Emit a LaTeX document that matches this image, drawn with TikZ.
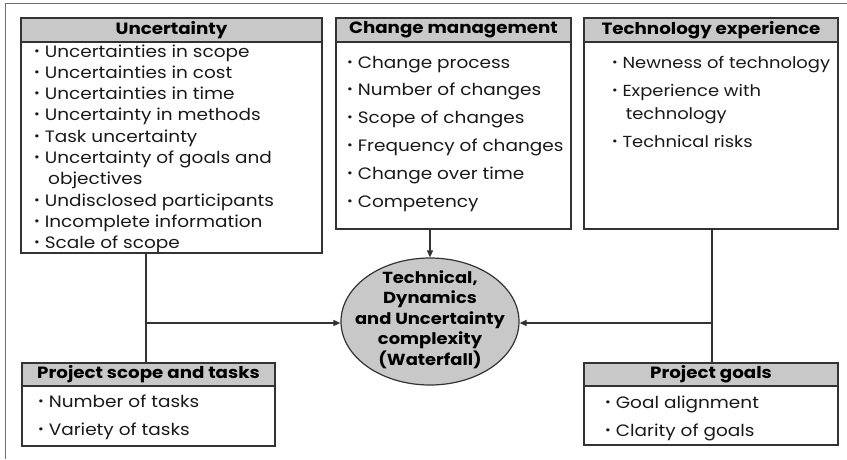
\documentclass[tikz,border=0pt]{standalone}
\usepackage{fontspec}
\setmainfont{Poppins}[FakeStretch=1.12]
\usetikzlibrary{arrows.meta,shapes.geometric}
\definecolor{ln}{HTML}{333333}
\definecolor{hd}{HTML}{C8C8C8}
\newcommand{\bul}{\raisebox{0.12em}{\scalebox{0.75}{\textbullet}}\hspace{0.3em}}
\newcommand{\cont}{\hspace{0.85em}}
\tikzset{
  hdr/.style={draw=ln,line width=1.2pt,fill=hd,inner sep=0pt,font=\fontsize{16.3}{18}\selectfont\bfseries,text=black},
  bodybox/.style={draw=ln,line width=1.2pt,inner sep=0pt},
  items/.style={anchor=base west,inner sep=0pt,text=black!90},
  conn/.style={draw=ln,line width=1.2pt},
  arr/.style={conn,-{Triangle[length=7pt,width=6pt]}},
}
\begin{document}
\begin{tikzpicture}[x=1pt,y=-1pt]
\useasboundingbox (0,0) rectangle (847,459);
% outer frame (top and left)
\draw[ln!70,line width=1pt] (847,3) -- (5,3) -- (5,459);
% Uncertainty
\node[bodybox,minimum width=301,minimum height=211] (uncb) at (171.5,147.5) {};
\node[hdr,minimum width=301,minimum height=24] (unch) at (171.5,30) {Uncertainty};
\node[items,font=\fontsize{16.5}{21.3}\selectfont] (unct) at (34,57) {\begin{tabular}[t]{@{}l@{}}\bul Uncertainties in scope\\
\bul Uncertainties in cost\\
\bul Uncertainties in time\\
\bul Uncertainty in methods\\
\bul Task uncertainty\\
\bul Uncertainty of goals and\\
\cont objectives\\
\bul Undisclosed participants\\
\bul Incomplete information\\
\bul Scale of scope\end{tabular}};
% Change management
\node[bodybox,minimum width=235,minimum height=187] (chgb) at (453.5,135.5) {};
\node[hdr,minimum width=235,minimum height=24] (chgh) at (453.5,30) {Change management};
\node[items,font=\fontsize{16.5}{27.8}\selectfont] (chgt) at (347,68) {\begin{tabular}[t]{@{}l@{}}\bul Change process\\
\bul Number of changes\\
\bul Scope of changes\\
\bul Frequency of changes\\
\bul Change over time\\
\bul Competency\end{tabular}};
% Technology experience
\node[bodybox,minimum width=254,minimum height=187] (tecb) at (711,135.5) {};
\node[hdr,minimum width=254,minimum height=24] (tech) at (711,30) {Technology experience};
\node[items,font=\fontsize{16}{23}\selectfont] (tect) at (612,68) {\begin{tabular}[t]{@{}l@{}}\bul Newness of technology\\[5pt]
\bul Experience with\\
\cont technology\\[5pt]
\bul Technical risks\end{tabular}};
% Project scope and tasks
\node[bodybox,minimum width=253,minimum height=60] (pstb) at (148.5,416) {};
\node[hdr,minimum width=253,minimum height=23] (psth) at (148.5,374.5) {Project scope and tasks};
\node[items,font=\fontsize{16.5}{28}\selectfont] (pstt) at (38,407) {\begin{tabular}[t]{@{}l@{}}\bul Number of tasks\\
\bul Variety of tasks\end{tabular}};
% Project goals
\node[bodybox,minimum width=254,minimum height=59] (pgb) at (711,415.5) {};
\node[hdr,minimum width=254,minimum height=23] (pgh) at (711,374.5) {Project goals};
\node[items,font=\fontsize{16.5}{28}\selectfont] (pgt) at (605,408) {\begin{tabular}[t]{@{}l@{}}\bul Goal alignment\\
\bul Clarity of goals\end{tabular}};
% Central ellipse
\node[ellipse,draw=ln,line width=1.2pt,fill=hd,minimum width=178,minimum height=127,inner sep=0pt] (ell) at (430,321.5) {};
\node[anchor=base,inner sep=0pt,font=\fontsize{16}{20.5}\selectfont\bfseries] (ellt) at (430,283) {\begin{tabular}[t]{@{}c@{}}Technical,\\Dynamics\\and Uncertainty\\complexity\\(Waterfall)\end{tabular}};
% Connectors
\coordinate (jl) at (146,323);
\coordinate (jr) at (712,323);
\draw[conn] (uncb.south -| jl) -- (psth.north -| jl);
\draw[arr] (jl) -- (jl -| ell.west);
\draw[arr] (chgb.south -| ell.north) -- (ell.north);
\draw[conn] (tecb.south -| jr) -- (pgh.north -| jr);
\draw[arr] (jr) -- (jr -| ell.east);
\end{tikzpicture}
\end{document}
